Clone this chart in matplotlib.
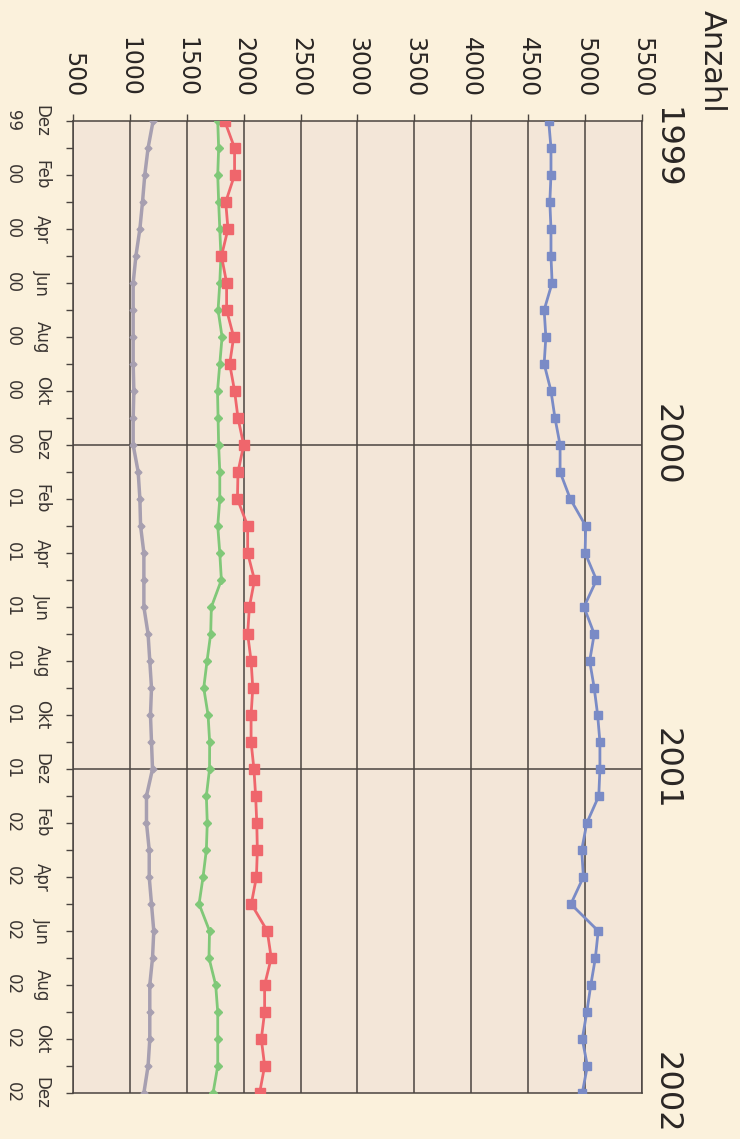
import matplotlib.pyplot as plt
from matplotlib.transforms import blended_transform_factory

# monthly values, Dez 99 .. Dez 02 (37 points)
month_names = ["Dez", "Jan", "Feb", "Mär", "Apr", "Mai", "Jun",
               "Jul", "Aug", "Sep", "Okt", "Nov"]
month_years = ["99"] + ["00"] * 12 + ["01"] * 12 + ["02"] * 12

blue = [4680, 4700, 4700, 4690, 4700, 4700, 4710, 4640, 4655, 4640, 4700, 4735,
        4780, 4780, 4870, 5005, 5000, 5100, 4990, 5080, 5040, 5080, 5110, 5130,
        5130, 5120, 5015, 4970, 4985, 4875, 5115, 5090, 5050, 5015, 4975, 5020,
        4975]
red = [1833, 1920, 1920, 1842, 1862, 1805, 1850, 1850, 1912, 1877, 1920, 1950,
       2000, 1950, 1945, 2035, 2035, 2095, 2050, 2035, 2065, 2080, 2065, 2065,
       2090, 2105, 2115, 2120, 2112, 2067, 2207, 2242, 2184, 2184, 2155, 2184,
       2140]
green = [1772, 1780, 1772, 1780, 1790, 1800, 1790, 1775, 1810, 1790, 1770, 1775,
         1780, 1790, 1790, 1772, 1790, 1804, 1716, 1710, 1678, 1649, 1687, 1701,
         1700, 1672, 1680, 1672, 1643, 1608, 1700, 1695, 1754, 1772, 1772, 1772,
         1731]
grey = [1204, 1160, 1131, 1111, 1088, 1053, 1029, 1029, 1029, 1029, 1035, 1029,
        1029, 1073, 1088, 1094, 1123, 1123, 1123, 1160, 1175, 1190, 1181, 1190,
        1199, 1146, 1146, 1170, 1170, 1190, 1210, 1199, 1175, 1175, 1175, 1160,
        1123]

value_ticks = list(range(500, 5501, 500))
years = ["1999", "2000", "2001", "2002"]
year_pos = [0, 12, 24, 36]

BG = "#fbf1dc"
PLOT_BG = "#f3e6d8"
LINE = "#4a4440"

plt.rcParams["font.family"] = ["DejaVu Sans"]

months = list(range(len(blue)))
labels = []
for i in months:
    if i % 2 == 0:
        labels.append(month_names[i % 12] + "\n" + month_years[i])
    else:
        labels.append("")

fig = plt.figure(figsize=(7.4, 11.39), dpi=100, facecolor=BG)
ax = fig.add_axes([0.0986, 0.0404, 0.769, 0.8534])
ax.set_facecolor(PLOT_BG)

ax.plot(grey, months, color="#a79fb0", lw=2.5, marker="D", ms=3.5, zorder=3)
ax.plot(green, months, color="#80c878", lw=2, marker="D", ms=4, zorder=4)
ax.plot(red, months, color="#ef666c", lw=2, marker="s", ms=7, zorder=5)
ax.plot(blue, months, color="#7a8bc6", lw=2, marker="s", ms=6, zorder=5)

ax.set_xlim(500, 5500)
ax.set_ylim(36, 0)

# value axis on top
ax.xaxis.tick_top()
ax.set_xticks(value_ticks)
ax.set_xticklabels([str(v) for v in value_ticks], rotation=270,
                   ha="center", va="bottom", fontsize=17, color="#2a2624")
ax.tick_params(axis="x", length=5, width=1, color=LINE, pad=12)

# months on the left
ax.set_yticks(months)
ax.set_yticklabels(labels, rotation=270, ha="right", va="center",
                   multialignment="center", fontsize=12,
                   color="#3a3532", linespacing=1.75)
ax.tick_params(axis="y", length=5, width=1, color=LINE, pad=11)

for v in value_ticks:
    ax.axvline(v, color=LINE, lw=1.1, zorder=1)
for p in year_pos[1:-1]:
    ax.axhline(p, color=LINE, lw=1.1, zorder=1)

for s in ax.spines.values():
    s.set_color(LINE)
    s.set_linewidth(1.1)

trans = blended_transform_factory(ax.transAxes, ax.transData)
for yr, p in zip(years, year_pos):
    if p == 0:
        ax.text(1.042, -0.5, yr, transform=trans, rotation=270, ha="center",
                va="top", fontsize=23, color="#2a2624")
    else:
        ax.text(1.042, p, yr, transform=trans, rotation=270, ha="center",
                va="center", fontsize=23, color="#2a2624")

fig.text(0.962, 0.991, "Anzahl", rotation=270, ha="center", va="top",
         fontsize=22, color="#2a2624")

fig.savefig("out.png", dpi=100, facecolor=BG)
